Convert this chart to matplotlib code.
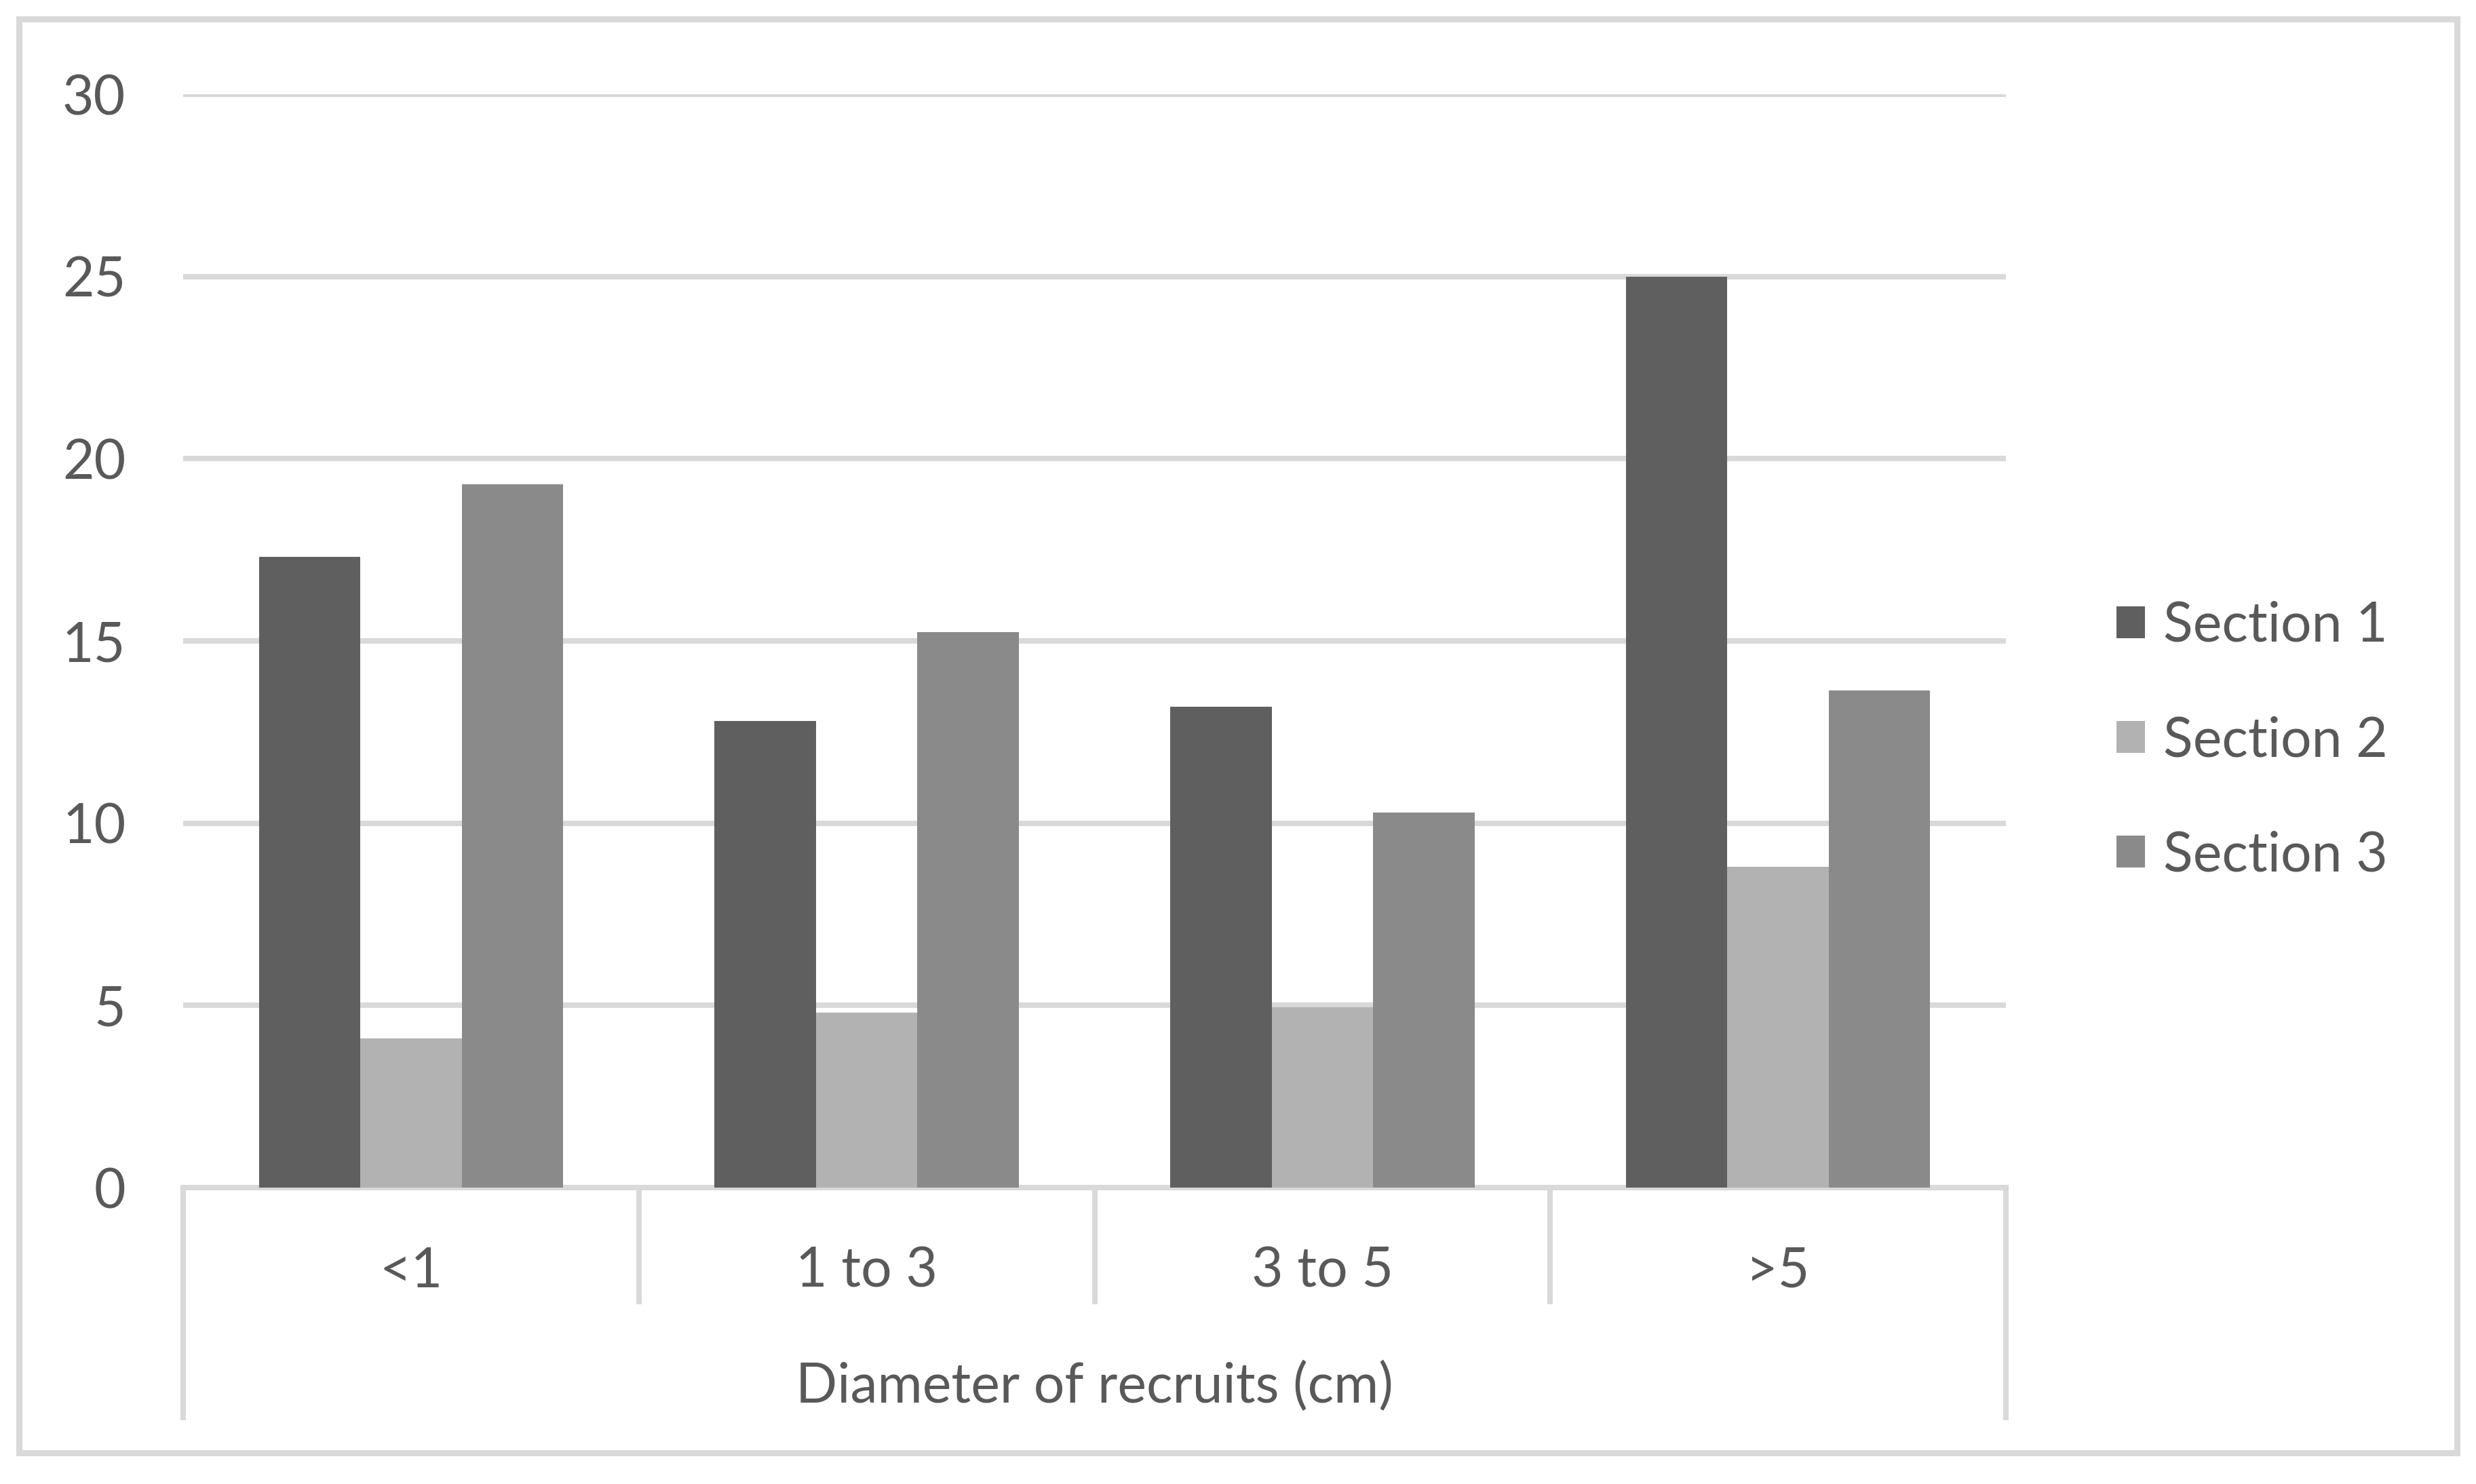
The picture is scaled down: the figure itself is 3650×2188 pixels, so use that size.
import matplotlib
matplotlib.use("Agg")
import matplotlib.pyplot as plt
import matplotlib.transforms as mtransforms
from matplotlib.patches import Rectangle, Patch
import numpy as np

categories = ["<1", "1 to 3", "3 to 5", ">5"]
series_names = ["Section 1", "Section 2", "Section 3"]
section1 = [17.3, 12.8, 13.2, 25.0]
section2 = [4.1, 4.8, 4.95, 8.8]
section3 = [19.3, 15.25, 10.3, 13.65]
y_ticks = [0, 5, 10, 15, 20, 25, 30]
x_title = "Diameter of recruits (cm)"

colors = ["#5f5f5f", "#b2b2b2", "#8a8a8a"]
grid_c = "#d9d9d9"
text_c = "#595959"

plt.rcParams['font.family'] = ['Lato', 'DejaVu Sans']
FS = 58
LW = 5.8

W, H = 3650, 2188
fig = plt.figure(figsize=(W / 100, H / 100), dpi=100)
fig.patch.set_facecolor("white")

x0, x1 = 270, 2957
y0, y1 = 1751, 139
ax = fig.add_axes([x0 / W, 1 - y0 / H, (x1 - x0) / W, (y0 - y1) / H])

x = np.arange(len(categories))
bw = 0.2226
for i, (vals, c, name) in enumerate(zip([section1, section2, section3], colors, series_names)):
    ax.bar(x + (i - 1) * bw, vals, width=bw, color=c, label=name, zorder=3)

ax.set_xlim(-0.5, len(categories) - 0.5)
ax.set_ylim(0, 30)
ax.set_yticks(y_ticks)
ax.set_yticklabels([str(v) for v in y_ticks])
ax.yaxis.grid(True, color=grid_c, linewidth=LW, zorder=0)
ax.set_axisbelow(True)
for s in ax.spines.values():
    s.set_visible(False)
ax.tick_params(axis='both', length=0, labelsize=FS, labelcolor=text_c)
ax.tick_params(axis='y', pad=61)

ax.set_xticks(x)
ax.set_xticklabels(categories)
ax.tick_params(axis='x', pad=89)
for lab in ax.get_xticklabels():
    lab.set_va('center')

ax.set_xlabel(x_title, fontsize=FS, color=text_c, va='center')
ax.xaxis.set_label_coords(0.5, -(2044 - y0) / (y0 - y1))

# axis line and category separators
ax.axhline(0, color=grid_c, linewidth=LW, zorder=2, clip_on=False)
trans = mtransforms.blended_transform_factory(ax.transData, ax.transAxes)
outer_bot = -(2094 - y0) / (y0 - y1)
inner_bot = -(1923 - y0) / (y0 - y1)
for xb in [-0.5, len(categories) - 0.5]:
    ax.plot([xb, xb], [0, outer_bot], color=grid_c, linewidth=LW, transform=trans,
            clip_on=False, solid_capstyle='butt')
for xb in np.arange(0.5, len(categories) - 0.5, 1.0):
    ax.plot([xb, xb], [0, inner_bot], color=grid_c, linewidth=LW, transform=trans,
            clip_on=False, solid_capstyle='butt')

# legend
handles = [Patch(facecolor=c, edgecolor='none') for c in colors]
fig.legend(handles, series_names, loc='center left',
           bbox_to_anchor=(3120 / W, 1 - 1092 / H), frameon=False,
           fontsize=FS, labelcolor=text_c, handlelength=0.52, handleheight=0.52,
           handletextpad=0.34, labelspacing=1.18, borderpad=0, borderaxespad=0)

# outer chart border
fig.patches.append(Rectangle((28 / W, 1 - 2142 / H), (3622 - 28) / W, (2142 - 28) / H,
                             transform=fig.transFigure, fill=False,
                             edgecolor=grid_c, linewidth=6.5))

fig.savefig("out.png", dpi=100, facecolor="white")
